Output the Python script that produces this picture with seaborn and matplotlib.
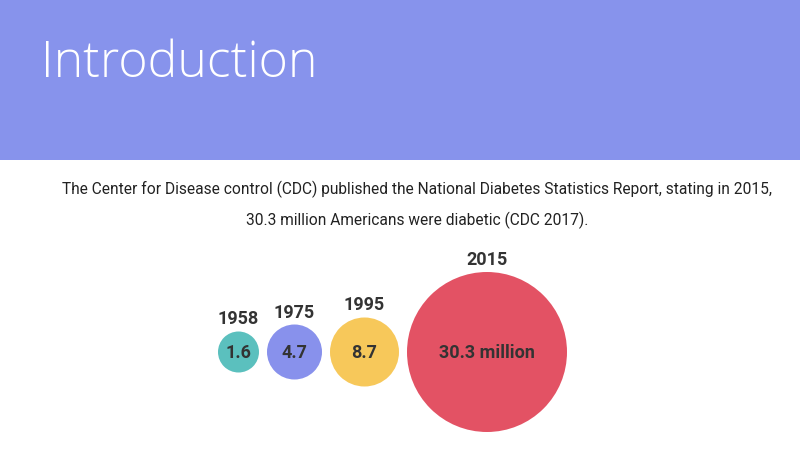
import numpy as np
import pandas as pd
import seaborn as sns
import matplotlib.pyplot as plt

# data
years = ["1958", "1975", "1995", "2015"]
cases_millions = [1.6, 4.7, 8.7, 30.3]
value_labels = ["1.6", "4.7", "8.7", "30.3 million"]

title = "Introduction"
subtitle = ("The Center for Disease control (CDC) published the National Diabetes Statistics Report, stating in 2015,\n"
            "30.3 million Americans were diabetic (CDC 2017).")

# style
band_color = "#8793EC"
bubble_colors = ["#5BC0BE", "#8891EC", "#F7C85A", "#E35264"]
bubble_radius_px = [20.5, 27.5, 34.5, 80]  # hand-drawn sizes on the slide
text_dark = "#333333"

sns.set_theme(style="white")
plt.rcParams["font.family"] = ["Roboto", "DejaVu Sans"]

W, H, DPI = 800, 450, 100
fig = plt.figure(figsize=(W / DPI, H / DPI), dpi=DPI)
ax = fig.add_axes([0, 0, 1, 1])
ax.set_xlim(0, W)
ax.set_ylim(H, 0)
ax.axis("off")

# header band
ax.axhspan(0, 160, color=band_color, zorder=0, lw=0)
ax.text(41, 77, title, color="white", fontsize=36, family=["Open Sans", "DejaVu Sans"],
        fontweight="light", va="baseline", ha="left")

ax.text(417, 205, subtitle, color="#222222", fontsize=11.2, ha="center", va="center",
        linespacing=2.05)

# pack bubbles side by side
gap = 8
left = 218
cx = []
for r in bubble_radius_px:
    cx.append(left + r)
    left += 2 * r + gap
cy = 352

df = pd.DataFrame({"year": years, "value": cases_millions, "label": value_labels,
                   "cx": cx, "cy": [cy] * len(years), "r": bubble_radius_px})
size_map = {y: (2 * r * 72 / DPI) ** 2 for y, r in zip(years, bubble_radius_px)}

sns.scatterplot(data=df, x="cx", y="cy", hue="year", palette=bubble_colors,
                size="year", sizes=size_map, linewidth=0, legend=False, ax=ax, zorder=2)
ax.set_xlim(0, W)
ax.set_ylim(H, 0)

for _, row in df.iterrows():
    ax.text(row.cx, row.cy + 1, row.label, ha="center", va="center", fontsize=13,
            fontweight="bold", color=text_dark, zorder=3)
    ax.text(row.cx, row.cy - row.r - 12, row.year, ha="center", va="center", fontsize=13,
            fontweight="bold", color=text_dark, zorder=3)

fig.savefig("out.png", dpi=DPI)
